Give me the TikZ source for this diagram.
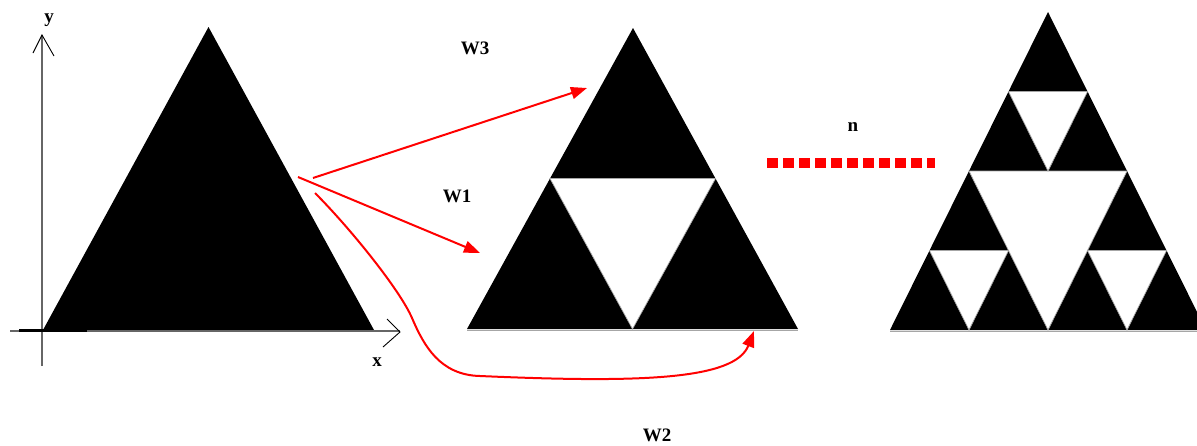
\documentclass[tikz,border=0pt]{standalone}
\usepackage{fontspec}
\setmainfont{Liberation Serif}
\usetikzlibrary{arrows.meta}
\tikzset{
  lbl/.style={font=\fontsize{19}{19}\selectfont\bfseries, inner sep=0pt},
  axisline/.style={draw=black!60, line width=1.8pt},
  axishead/.style={draw=black, line width=0.9pt},
  redarrow/.style={draw=red, line width=2pt, -{Triangle[length=16pt,width=12pt]}},
  hole/.style={fill=white, draw=black!35, line width=0.7pt},
  blk/.style={fill=black},
}
\begin{document}
\begin{tikzpicture}[x=1pt,y=-1pt]
\useasboundingbox (0,0) rectangle (1197,445);
\clip (0,0) rectangle (1197,445);

% ---- left: initial triangle with axes
\fill[blk] (43,330) -- (374,330) -- (208.5,27) -- cycle;
\draw[axisline] (10,331) -- (400,331);
\draw[axisline] (42,366) -- (42,35);
\draw[line width=3pt] (19,330) -- (87,330);
\draw[axishead] (33,53) -- (42,35) -- (54,56);
\draw[axishead] (387,319) -- (400,332) -- (383,347);
\node[lbl] (ylab) at (49,20) {y};
\node[lbl] (xlab) at (377,362) {x};

% ---- middle: first iteration
\fill[blk] (467,329) -- (798,329) -- (633,28) -- cycle;
\draw[hole] (550,178.5) -- (715.5,178.5) -- (632.5,329) -- cycle;
\draw[black!35, line width=0.8pt] (467,330.5) -- (798,330.5);

% ---- right: second iteration
\fill[blk] (890,330) -- (1206,330) -- (1048,12) -- cycle;
\draw[hole] (969,171) -- (1127,171) -- (1048,330) -- cycle;
\draw[hole] (929.5,250.5) -- (1008.5,250.5) -- (969,330) -- cycle;
\draw[hole] (1087.5,250.5) -- (1166.5,250.5) -- (1127,330) -- cycle;
\draw[hole] (1008.5,91.5) -- (1087.5,91.5) -- (1048,171) -- cycle;
\draw[black!35, line width=0.8pt] (890,331.5) -- (1206,331.5);

% ---- connectors
\coordinate (w3s) at (313,178);
\coordinate (w3e) at (587,88);
\coordinate (w1s) at (298,177);
\coordinate (w1e) at (480,253);
\coordinate (w2s) at (315,193);
\coordinate (w2e) at (754,331);
\coordinate (ns) at (767,163);
\coordinate (ne) at (935,163);

\draw[redarrow] (w3s) -- (w3e);
\draw[redarrow] (w1s) -- (w1e);
\draw[redarrow] (w2s) .. controls (350,228) and (400,290) .. (412,318)
  .. controls (424,346) and (440,375) .. (480,376)
  .. controls (640,383) and (735,380) .. (w2e);
\draw[red, line width=10pt, dash pattern=on 10.5pt off 5.5pt] (ns) -- (ne);

% ---- labels
\node[lbl] (W3) at (475,48) {W3};
\node[lbl] (W1) at (457,196) {W1};
\node[lbl] (W2) at (657,435) {W2};
\node[lbl] (n) at (853,127) {n};
\end{tikzpicture}
\end{document}
